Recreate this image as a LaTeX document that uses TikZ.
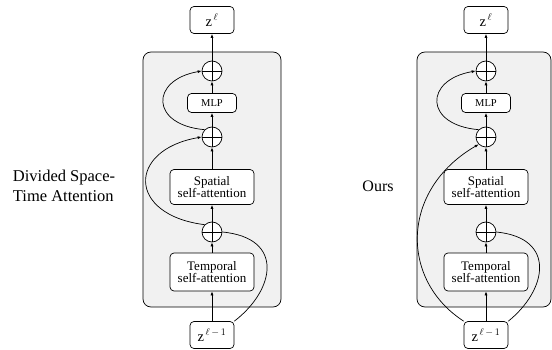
\documentclass[tikz,border=0pt]{standalone}
\usepackage{fontspec}
\setmainfont{Liberation Serif}
\usetikzlibrary{positioning,arrows.meta,calc}

\begin{document}
\begin{tikzpicture}[x=1pt, y=-1pt, line width=0.7pt,
        blk/.style={rectangle, draw, fill=white, rounded corners=4pt, align=center,
                    font=\fontsize{13}{12.5}\selectfont, inner sep=1pt},
        addop/.style={circle, draw, fill=white, minimum size=20pt, inner sep=0pt,
                      path picture={\draw (path picture bounding box.north) -- (path picture bounding box.south)
                                          (path picture bounding box.west) -- (path picture bounding box.east);}},
        zbox/.style={blk, minimum width=44pt, minimum height=27pt, font=\fontsize{14.5}{14.5}\selectfont},
        arr/.style={-{Latex[length=4pt,width=3pt]}},
        panel/.style={draw, fill=gray!11, rounded corners=8pt}]
    \useasboundingbox (0,0) rectangle (552,350);

    % divided space-time attention
    \draw[panel] (143,52) rectangle (281,307);
    \node[zbox] (zl) at (212,20) {$\mathrm{z}^{\,\ell}$};
    \node[addop] (addc) at (212,71) {};
    \node[blk, minimum width=49pt, minimum height=19pt, font=\fontsize{10.5}{10.5}\selectfont] (mlp) at (212,103) {MLP};
    \node[addop] (addb) at (212,137) {};
    \node[blk, minimum width=84pt, minimum height=35pt] (spat) at (212,187) {Spatial\\self-attention};
    \node[addop] (adda) at (212,232) {};
    \node[blk, minimum width=84pt, minimum height=38pt] (temp) at (212,272) {Temporal\\self-attention};
    \node[zbox] (zin) at (212,335) {$\mathrm{z}^{\,\ell\,-\,1}$};

    \draw[arr] (zin) -- (temp);
    \draw[arr] (temp) -- (adda);
    \draw[arr] (adda) -- (spat);
    \draw[arr] (spat) -- (addb);
    \draw[arr] (addb) -- (mlp);
    \draw[arr] (mlp) -- (addc);
    \draw[arr] (addc) -- (zl);
    \draw (zin.north east) .. controls (275,290) and (285,238) .. (adda.east);
    \draw[arr] (adda.north west) .. controls (127,215) and (127,150) .. (addb.west);
    \draw[arr] (addb.north west) .. controls (150,125) and (150,80) .. (addc.west);

    \node[align=left, font=\fontsize{16.5}{20}\selectfont] (lbla) at (64,186) {Divided Space-\\Time Attention};

    % ours
    \draw[panel] (417,52) rectangle (551,307);
    \node[zbox] (zl2) at (486,20) {$\mathrm{z}^{\,\ell}$};
    \node[addop] (addc2) at (486,71) {};
    \node[blk, minimum width=49pt, minimum height=19pt, font=\fontsize{10.5}{10.5}\selectfont] (mlp2) at (486,103) {MLP};
    \node[addop] (addb2) at (486,137) {};
    \node[blk, minimum width=84pt, minimum height=35pt] (spat2) at (486,187) {Spatial\\self-attention};
    \node[addop] (adda2) at (486,232) {};
    \node[blk, minimum width=84pt, minimum height=38pt] (temp2) at (486,272) {Temporal\\self-attention};
    \node[zbox] (zin2) at (486,335) {$\mathrm{z}^{\,\ell\,-\,1}$};

    \draw[arr] (zin2) -- (temp2);
    \draw[arr] (temp2) -- (adda2);
    \draw[arr] (adda2) -- (spat2);
    \draw[arr] (spat2) -- (addb2);
    \draw[arr] (addb2) -- (mlp2);
    \draw[arr] (mlp2) -- (addc2);
    \draw[arr] (addc2) -- (zl2);
    \draw (zin2.north east) .. controls (547,290) and (557,238) .. (adda2.east);
    \draw[arr] (zin2.north west) .. controls (400,280) and (400,190) .. (addb2.south west);
    \draw[arr] (addb2.north west) .. controls (424,125) and (424,80) .. (addc2.west);

    \node[font=\fontsize{16}{20}\selectfont] (lblb) at (378,186) {Ours};
\end{tikzpicture}
\end{document}
